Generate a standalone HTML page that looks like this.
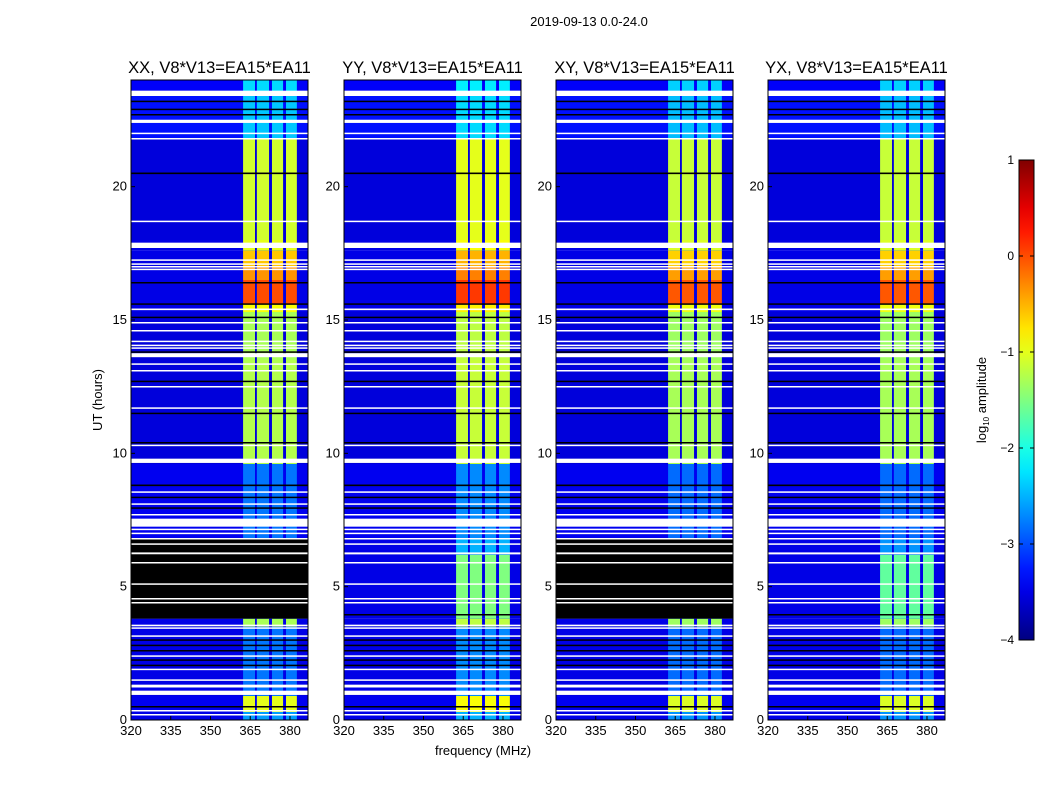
<!DOCTYPE html>
<html><head><meta charset="utf-8"><style>
body{margin:0;background:#fff;font-family:"Liberation Sans",sans-serif}
svg text{font-family:"Liberation Sans",sans-serif;fill:#000}
</style></head><body>
<svg id="c" width="1050" height="800" xmlns="http://www.w3.org/2000/svg">
<text x="589" y="26" font-size="13" text-anchor="middle">2019-09-13 0.0-24.0</text>
<text x="483" y="755" font-size="13" text-anchor="middle">frequency (MHz)</text>
<text transform="translate(102,400) rotate(-90)" font-size="13" text-anchor="middle">UT (hours)</text>
<text transform="translate(986,400) rotate(-90)" font-size="13" text-anchor="middle">log<tspan font-size="8" dy="3">10</tspan><tspan dy="-3"> amplitude</tspan></text>
</svg>
<script>
const panelTitles=["XX, V8*V13=EA15*EA11","YY, V8*V13=EA15*EA11","XY, V8*V13=EA15*EA11","YX, V8*V13=EA15*EA11"];
const panelLeft=[131,344,556,768];
const panelHasBlackBlock=[true,false,true,false];
const panelScale=[0,0.1,-0.05,-0.05];
const xTicks=[320,335,350,365,380];
const yTicks=[0,5,10,15,20];
const cbTicks=[1,0,-1,-2,-3,-4];
// band channels [startMHz,endMHz]
const bands=[[362.3,366.8],[367.5,372.1],[373.2,377.4],[378.5,382.6]];
// time segments [startH,endH,bandLevel,backgroundLevel]
const segments=[[0,0.3,-2.6,-3.5],[0.3,0.9,-1.0,-3.45],[0.9,3.5,-2.8,-3.5],[3.5,3.8,-1.3,-3.5],[3.8,6.2,-1.6,-3.5],[6.2,6.8,-2.6,-3.5],[6.8,9.6,-2.8,-3.45],[9.6,13.5,-1.25,-3.55],[13.5,15.3,-1.3,-3.55],[15.3,15.6,-0.9,-3.5],[15.6,16.5,0.0,-3.5],[16.5,17.0,-0.35,-3.5],[17.0,17.6,-0.6,-3.5],[17.6,18.0,-1.0,-3.5],[18.0,21.8,-1.1,-3.55],[21.8,23.4,-2.4,-3.3],[23.4,24,-2.3,-3.4]];
// flagged rows [hour, thickness in hours]
const whiteRows=[[23.5,0.2],[22.45,0.12],[22.0,0.05],[21.8,0.05],[18.7,0.05],[17.8,0.2],[17.25,0.05],[17.1,0.05],[17.0,0.05],[16.9,0.05],[15.4,0.06],[14.9,0.05],[14.6,0.05],[14.2,0.05],[14.05,0.05],[13.95,0.05],[13.68,0.15],[13.35,0.05],[13.1,0.05],[12.5,0.05],[11.7,0.05],[10.3,0.05],[9.72,0.16],[8.55,0.05],[8.1,0.05],[7.7,0.05],[7.4,0.3],[7.15,0.05],[7.0,0.05],[6.8,0.05],[6.6,0.05],[6.25,0.07],[5.9,0.05],[5.1,0.05],[4.55,0.05],[4.4,0.05],[3.55,0.05],[3.45,0.05],[3.15,0.05],[2.4,0.05],[1.9,0.05],[1.5,0.05],[1.3,0.05],[1.25,0.05],[1.02,0.16],[0.35,0.05],[0.2,0.05]];
const blackRows=[[23.2,0.05],[22.9,0.05],[22.7,0.05],[20.5,0.06],[16.4,0.05],[15.6,0.05],[15.1,0.05],[13.8,0.05],[12.7,0.05],[11.5,0.05],[10.4,0.05],[8.8,0.06],[8.35,0.05],[7.95,0.05],[3.95,0.05],[3.0,0.05],[2.8,0.05],[2.6,0.05],[2.25,0.05],[2.05,0.05],[0.5,0.05]];
const blackBlock=[3.8,6.8];

const NS="http://www.w3.org/2000/svg";
const svg=document.getElementById('c');
const PW=177,TOP=80,BOT=720,F0=320,F1=386.8,H1=24;
function jet(v){let t=(v+4)/5;t=Math.max(0,Math.min(1,t));
 const c=x=>Math.round(255*Math.max(0,Math.min(1,1.5-Math.abs(4*t-x))));
 return `rgb(${c(3)},${c(2)},${c(1)})`;}
function el(tag,attrs,parent){const e=document.createElementNS(NS,tag);for(const k in attrs)e.setAttribute(k,attrs[k]);(parent||svg).appendChild(e);return e;}
const yOf=h=>BOT-(h/H1)*(BOT-TOP);
panelLeft.forEach((L,p)=>{
 const xOf=f=>L+(f-F0)/(F1-F0)*PW;
 const g=el('g',{});
 
 
 segments.forEach(s=>{
  const r=el('rect',{x:L,y:yOf(s[1]),width:PW,height:yOf(s[0])-yOf(s[1]),fill:jet(s[3])},g);
  
  
  bands.forEach(b=>{
   const c=el('rect',{x:xOf(b[0]),y:yOf(s[1]),width:xOf(b[1])-xOf(b[0]),height:yOf(s[0])-yOf(s[1]),fill:jet(s[2]+panelScale[p])},g);
   
   
  });
 });
 if(panelHasBlackBlock[p]){
  const b=el('rect',{x:L,y:yOf(blackBlock[1]),width:PW,height:yOf(blackBlock[0])-yOf(blackBlock[1]),fill:'#000'},g);
  
  
 }
 blackRows.forEach(w=>{
  const r=el('rect',{x:L,y:yOf(w[0]+w[1]/2),width:PW,height:Math.max(1.5,yOf(w[0]-w[1]/2)-yOf(w[0]+w[1]/2)),fill:'#000'},g);
  
  
 });
 whiteRows.forEach(w=>{
  const r=el('rect',{x:L,y:yOf(w[0]+w[1]/2),width:PW,height:Math.max(1.5,yOf(w[0]-w[1]/2)-yOf(w[0]+w[1]/2)),fill:'#fff'},g);
  
  
 });
 const fr=el('rect',{x:L,y:TOP,width:PW,height:BOT-TOP,fill:'none',stroke:'#000','stroke-width':1},g);
 
 
 const t=el('text',{x:L+PW/2,y:73,'font-size':16.5,'text-anchor':'middle'},g);t.textContent=panelTitles[p];
 
 
 xTicks.forEach(f=>{
  const x=xOf(f);
  el('line',{x1:x,x2:x,y1:BOT,y2:BOT-4,stroke:'#000'},g);
  const tx=el('text',{x:x,y:BOT+15,'font-size':13,'text-anchor':'middle'},g);tx.textContent=f;
  
  
 });
 yTicks.forEach(h=>{
  const y=yOf(h);
  el('line',{x1:L,x2:L+4,y1:y,y2:y,stroke:'#000'},g);
  const ty=el('text',{x:L-4,y:y+4,'font-size':13,'text-anchor':'end'},g);ty.textContent=h;
  
  
 });
});
// colorbar
const CB={x:1019,w:15,top:160,bot:640};
const defs=el('defs',{});
const lg=el('linearGradient',{id:'jet',x1:0,y1:1,x2:0,y2:0},defs);
for(let i=0;i<=20;i++){el('stop',{offset:i/20,'stop-color':jet(-4+5*i/20)},lg);}
const cb=el('rect',{x:CB.x,y:CB.top,width:CB.w,height:CB.bot-CB.top,fill:'url(#jet)',stroke:'#000'});


cbTicks.forEach(v=>{
 const y=CB.bot-(v+4)/5*(CB.bot-CB.top);
 el('line',{x1:CB.x,x2:CB.x+4,y1:y,y2:y,stroke:'#000'});
 el('line',{x1:CB.x+CB.w-4,x2:CB.x+CB.w,y1:y,y2:y,stroke:'#000'});
 const t=el('text',{x:1014,y:y+4,'font-size':12,'text-anchor':'end'});t.textContent=v<0?'\u2212'+(-v):v;
 
 
});
</script>
</body></html>
